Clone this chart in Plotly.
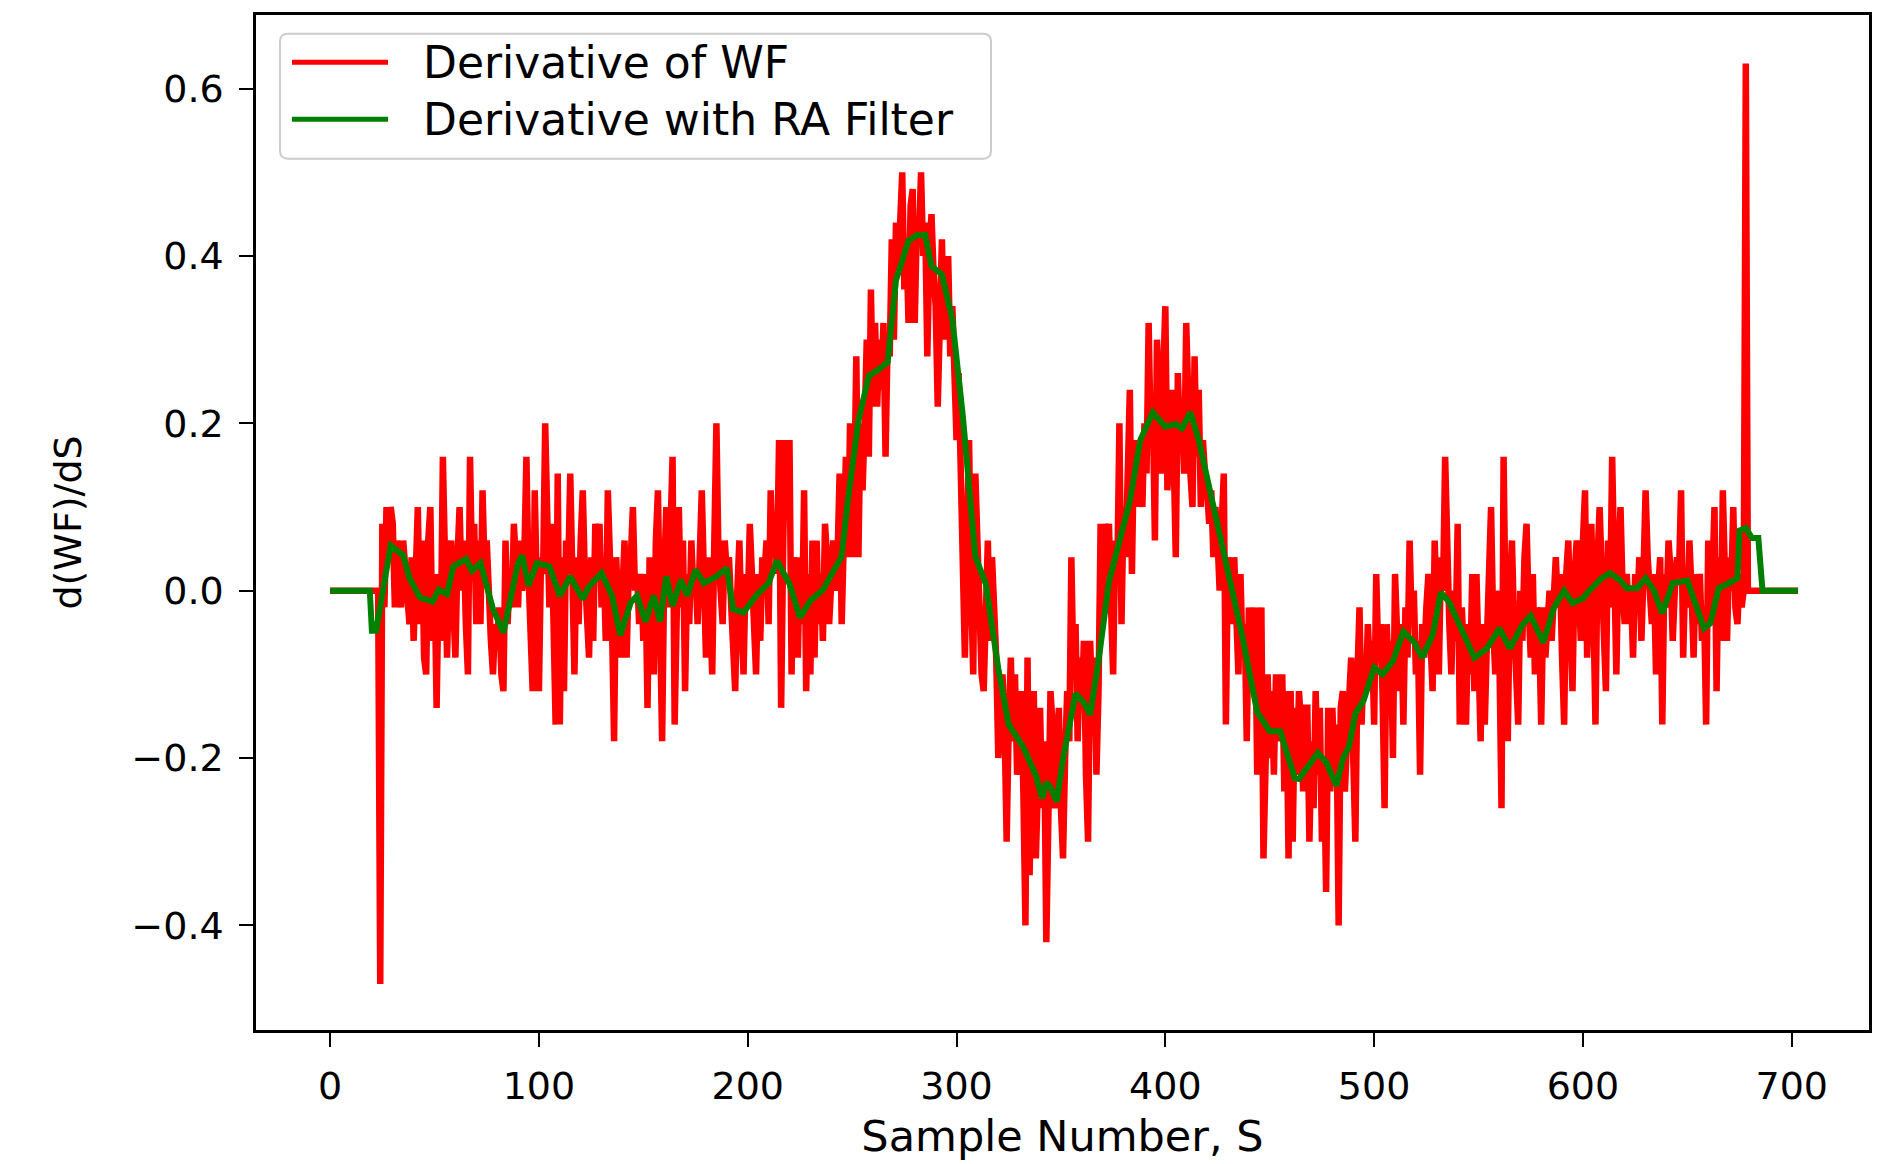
import plotly.graph_objects as go

# ---------------- data ----------------
# Derivative of WF: one value per sample, samples 0..703
deriv_wf = [
    0, 0, 0, 0, 0, 0, 0, 0, 0, 0,
    0, 0, 0, 0, 0, 0, 0, 0, 0, 0,
    0, 0, 0, 0, -0.47, 0.08, -0.02, 0.10, 0.04, 0.10,
    0.08, -0.02, 0.06, 0.00, -0.02, 0.06, 0.02, 0.00, -0.04, 0.04,
    -0.06, 0.02, 0.10, -0.04, 0.06, -0.08, -0.10, 0.06, 0.10, -0.06,
    0.02, -0.14, 0.02, -0.06, 0.16, 0.04, -0.08, 0.02, 0.06, -0.02,
    -0.08, 0.04, 0.10, 0.00, 0.06, -0.04, -0.10, 0.16, 0.02, 0.08,
    -0.04, 0.06, -0.04, 0.12, 0.02, 0.06, -0.02, -0.06, -0.10, -0.04,
    -0.06, -0.02, -0.10, -0.12, 0.06, -0.04, 0.02, -0.02, 0.08, 0.04,
    -0.02, 0.06, 0.00, 0.04, 0.16, 0.02, -0.06, -0.12, 0.12, -0.04,
    -0.12, 0.04, 0.02, 0.20, 0.06, -0.02, 0.08, -0.04, -0.16, 0.14,
    -0.16, 0.04, -0.12, 0.06, 0.02, 0.14, 0.00, -0.10, 0.04, -0.04,
    0.06, 0.12, 0.02, -0.02, -0.08, 0.04, -0.06, 0.08, 0.02, 0.08,
    -0.02, 0.04, -0.06, 0.12, 0.06, -0.04, -0.18, 0.04, -0.02, -0.08,
    0.00, 0.06, -0.08, 0.02, 0.04, 0.10, 0.00, 0.02, -0.04, 0.02,
    -0.06, 0.02, -0.14, 0.04, -0.02, -0.10, 0.06, 0.12, -0.04, -0.18,
    0.02, 0.10, -0.02, 0.06, 0.16, -0.16, 0.04, 0.10, -0.02, 0.06,
    -0.12, 0.02, -0.04, 0.06, 0.00, 0.02, -0.04, 0.06, 0.12, 0.02,
    -0.08, 0.04, -0.02, -0.10, 0.06, 0.20, 0.04, -0.02, -0.04, 0.06,
    0.02, 0.04, -0.02, -0.06, -0.12, 0.00, 0.06, -0.04, -0.10, 0.02,
    -0.02, 0.08, 0.00, -0.04, -0.10, 0.02, -0.06, 0.04, 0.02, 0.06,
    -0.04, 0.12, 0.04, 0.08, 0.02, 0.18, -0.14, 0.06, 0.18, 0.10,
    0.18, -0.10, 0.04, -0.02, -0.08, 0.04, -0.04, 0.12, -0.12, 0.02,
    -0.10, 0.06, -0.08, 0.06, -0.04, 0.02, -0.06, 0.08, 0.04, -0.04,
    0.02, 0.06, 0.00, 0.04, 0.14, -0.04, 0.06, 0.16, 0.04, 0.20,
    0.04, 0.12, 0.28, 0.04, 0.20, 0.12, 0.20, 0.30, 0.16, 0.36,
    0.22, 0.32, 0.22, 0.30, 0.24, 0.32, 0.16, 0.30, 0.28, 0.42,
    0.30, 0.44, 0.38, 0.46, 0.50, 0.36, 0.42, 0.32, 0.46, 0.48,
    0.32, 0.44, 0.42, 0.50, 0.40, 0.44, 0.28, 0.40, 0.45, 0.38,
    0.34, 0.22, 0.36, 0.42, 0.30, 0.38, 0.40, 0.28, 0.34, 0.26,
    0.18, 0.26, 0.12, 0.02, -0.08, 0.06, 0.18, 0.00, -0.10, 0.14,
    0.04, -0.06, -0.10, -0.12, 0.02, 0.06, -0.06, 0.04, -0.02, -0.08,
    -0.20, -0.12, -0.10, -0.16, -0.30, -0.16, -0.08, -0.18, -0.10, -0.22,
    -0.14, -0.12, -0.24, -0.40, -0.08, -0.34, -0.20, -0.12, -0.32, -0.22,
    -0.14, -0.26, -0.18, -0.42, -0.20, -0.12, -0.16, -0.26, -0.20, -0.14,
    -0.26, -0.32, -0.20, -0.12, -0.18, 0.04, -0.10, -0.04, -0.18, -0.08,
    -0.14, -0.06, -0.22, -0.30, -0.06, -0.14, -0.08, -0.22, -0.12, 0.08,
    -0.04, 0.08, 0.02, 0.08, -0.02, -0.10, 0.06, 0.02, 0.20, -0.04,
    0.10, 0.04, 0.14, 0.24, 0.02, 0.18, 0.10, 0.18, 0.14, 0.10,
    0.20, 0.14, 0.32, 0.18, 0.22, 0.06, 0.30, 0.20, 0.14, 0.26,
    0.34, 0.12, 0.20, 0.24, 0.16, 0.04, 0.26, 0.18, 0.22, 0.14,
    0.32, 0.20, 0.14, 0.10, 0.28, 0.16, 0.24, 0.10, 0.18, 0.14,
    0.12, 0.08, 0.12, 0.04, 0.10, 0.06, 0.00, 0.08, 0.14, -0.16,
    0.04, 0.00, -0.04, 0.04, -0.02, -0.10, 0.02, -0.08, -0.04, -0.18,
    -0.02, -0.12, -0.06, -0.02, -0.22, -0.10, -0.02, -0.32, -0.16, -0.10,
    -0.20, -0.12, -0.22, -0.10, -0.18, -0.14, -0.10, -0.24, -0.12, -0.32,
    -0.12, -0.30, -0.14, -0.22, -0.12, -0.16, -0.24, -0.14, -0.14, -0.30,
    -0.18, -0.26, -0.12, -0.22, -0.14, -0.30, -0.20, -0.36, -0.14, -0.24,
    -0.14, -0.22, -0.16, -0.40, -0.14, -0.12, -0.24, -0.18, -0.14, -0.08,
    -0.20, -0.30, -0.10, -0.02, -0.16, -0.08, -0.12, -0.04, -0.10, -0.06,
    -0.16, 0.02, -0.08, -0.04, -0.12, -0.26, -0.04, -0.10, -0.06, -0.20,
    0.02, -0.08, -0.12, -0.04, -0.16, -0.02, -0.08, 0.06, -0.04, 0.00,
    -0.10, -0.06, -0.22, -0.04, -0.08, -0.02, 0.02, -0.06, -0.12, 0.06,
    -0.04, -0.10, 0.04, 0.00, 0.16, 0.02, -0.04, -0.10, 0.00, -0.06,
    0.08, -0.16, -0.02, -0.08, -0.16, -0.04, -0.10, 0.02, -0.12, 0.02,
    -0.06, -0.18, -0.04, -0.16, -0.06, 0.02, 0.10, -0.04, -0.10, 0.00,
    -0.08, -0.26, 0.16, -0.04, -0.18, 0.00, 0.06, -0.04, -0.10, -0.16,
    0.00, -0.06, 0.04, 0.08, -0.02, -0.08, 0.02, -0.10, -0.02, -0.04,
    -0.16, -0.02, -0.08, -0.04, 0.00, -0.06, 0.02, 0.04, -0.02, 0.02,
    -0.08, -0.16, 0.02, 0.06, -0.04, -0.12, 0.02, 0.06, 0.00, -0.06,
    0.06, 0.12, -0.08, 0.04, 0.08, -0.02, -0.16, 0.04, 0.10, 0.02,
    -0.04, -0.12, 0.06, -0.02, 0.16, 0.02, -0.10, 0.04, 0.10, 0.00,
    -0.04, 0.02, -0.04, 0.00, -0.08, 0.02, -0.02, 0.04, -0.06, 0.02,
    0.12, 0.04, 0.00, -0.04, 0.02, -0.10, 0.00, 0.04, -0.16, 0.02,
    -0.02, 0.06, 0.02, -0.06, 0.00, 0.04, 0.02, 0.12, -0.08, 0.02,
    -0.02, 0.06, 0.00, -0.08, 0.02, -0.04, 0.02, -0.06, -0.02, -0.16,
    0.06, -0.04, 0.02, 0.10, -0.12, 0.04, -0.06, 0.12, 0.02, -0.06,
    0.04, 0.00, 0.10, -0.02, -0.04, 0.02, -0.02, 0.00, 0.63, 0.00,
    0, 0, 0, 0, 0, 0, 0, 0, 0, 0,
    0, 0, 0, 0, 0, 0, 0, 0, 0, 0,
    0, 0, 0, 0,
]
sample_wf = list(range(len(deriv_wf)))

# Derivative with RA filter: sample numbers and values
ra_samples = [
    0, 19, 20, 22, 29, 35, 38, 43, 49, 52, 56, 59, 65, 68, 72, 78, 83, 86, 90, 92,
    95, 99, 105, 110, 115, 121, 124, 130, 135, 139, 144, 147, 151, 155, 158, 161, 164, 168, 171, 175,
    179, 185, 190, 193, 198, 204, 210, 214, 220, 225, 230, 236, 242, 245, 248, 253, 258, 262, 267, 271,
    277, 281, 285, 288, 293, 298, 303, 309, 314, 320, 325, 332, 338, 341, 343, 345, 348, 351, 357, 361,
    364, 368, 373, 378, 383, 388, 394, 400, 405, 408, 412, 416, 421, 429, 437, 444, 450, 455, 458, 462,
    464, 469, 473, 477, 482, 485, 488, 491, 495, 500, 504, 509, 514, 519, 523, 528, 532, 536, 543, 548,
    554, 560, 565, 571, 575, 581, 586, 591, 595, 600, 603, 609, 613, 618, 621, 626, 630, 634, 638, 643,
    650, 653, 658, 661, 665, 670, 674, 675, 678, 681, 684, 686, 703,
]
ra_values = [
    0.0, 0.0, -0.048, -0.048, 0.054, 0.042, 0.015, -0.008, -0.013, 0.001, -0.004, 0.029, 0.038, 0.024, 0.033, -0.022, -0.050, -0.017, 0.033, 0.042,
    0.006, 0.033, 0.029, -0.006, 0.017, -0.010, 0.005, 0.021, -0.006, -0.053, -0.014, -0.006, -0.037, -0.006, -0.037, 0.017, -0.018, 0.013, -0.006, 0.025,
    0.009, 0.017, 0.027, -0.022, -0.026, -0.006, 0.009, 0.036, 0.008, -0.032, -0.012, 0.001, 0.028, 0.041, 0.109, 0.203, 0.257, 0.263, 0.273, 0.371,
    0.418, 0.425, 0.425, 0.388, 0.378, 0.324, 0.209, 0.041, 0.008, -0.093, -0.160, -0.187, -0.221, -0.248, -0.229, -0.235, -0.252, -0.201, -0.123, -0.134,
    -0.148, -0.084, 0.011, 0.056, 0.107, 0.180, 0.213, 0.196, 0.199, 0.194, 0.213, 0.180, 0.124, 0.040, -0.056, -0.145, -0.168, -0.168, -0.190, -0.224,
    -0.225, -0.209, -0.194, -0.205, -0.233, -0.201, -0.186, -0.147, -0.131, -0.092, -0.100, -0.084, -0.049, -0.061, -0.080, -0.053, -0.002, -0.014, -0.053, -0.080,
    -0.069, -0.045, -0.069, -0.041, -0.030, -0.062, -0.021, 0.000, -0.015, -0.009, 0.000, 0.015, 0.021, 0.012, 0.003, 0.003, 0.015, 0.000, -0.027, 0.009,
    0.012, -0.009, -0.045, -0.039, 0.003, 0.009, 0.015, 0.072, 0.075, 0.063, 0.063, 0.000, 0.000,
]

series_names = ["Derivative of WF", "Derivative with RA Filter"]
x_ticks = [0, 100, 200, 300, 400, 500, 600, 700]
y_ticks = [-0.4, -0.2, 0.0, 0.2, 0.4, 0.6]
x_title = "Sample Number, S"
y_title = "d(WF)/dS"

# ---------------- figure ----------------
FONT = "DejaVu Sans"
RED = "#ff0000"
GREEN = "#008000"

fig = go.Figure()
fig.add_trace(go.Scatter(x=sample_wf, y=deriv_wf, mode="lines", name=series_names[0],
                         line=dict(color=RED, width=6.5), showlegend=False))
fig.add_trace(go.Scatter(x=ra_samples, y=ra_values, mode="lines", name=series_names[1],
                         line=dict(color=GREEN, width=6), showlegend=False))

W, H = 1891, 1164
ML, MR, MT, MB = 256, 22, 12, 121
PW, PH = W - ML - MR, H - MT - MB


def px(xp):
    return (xp - ML) / PW


def py(yp):
    return 1 - (yp - MT) / PH


# legend drawn in the matplotlib style (long line samples, rounded frame)
bx0, bx1, by0, by1 = px(280), px(991), py(158), py(31)
rx, ry = 8 / PW, 8 / PH
box_path = (
    f"M{bx0+rx},{by0} L{bx1-rx},{by0} Q{bx1},{by0} {bx1},{by0+ry} "
    f"L{bx1},{by1-ry} Q{bx1},{by1} {bx1-rx},{by1} L{bx0+rx},{by1} "
    f"Q{bx0},{by1} {bx0},{by1-ry} L{bx0},{by0+ry} Q{bx0},{by0} {bx0+rx},{by0} Z"
)
shapes = [
    dict(type="path", xref="paper", yref="paper", path=box_path,
         line=dict(color="#cccccc", width=2), fillcolor="rgba(255,255,255,0.85)", layer="above"),
]
annotations = []
for i, (name, col) in enumerate(zip(series_names, [RED, GREEN])):
    yc = py(60 + i * 58)
    shapes.append(dict(type="line", xref="paper", yref="paper", x0=px(292), x1=px(388), y0=yc, y1=yc,
                       line=dict(color=col, width=5), layer="above"))
    annotations.append(dict(xref="paper", yref="paper", x=px(421), y=yc, xanchor="left", yanchor="middle",
                            text=name, showarrow=False, font=dict(family=FONT, size=44, color="black")))

axis_common = dict(
    showgrid=False, zeroline=False, showline=True, linecolor="black", linewidth=2.5, mirror=True,
    ticks="outside", ticklen=14, tickwidth=2, tickcolor="black",
    tickfont=dict(family=FONT, size=38, color="black"),
)

fig.update_layout(
    width=W, height=H,
    margin=dict(l=ML, r=MR, t=MT, b=MB, pad=0),
    paper_bgcolor="white", plot_bgcolor="white",
    xaxis=dict(range=[-35.5, 737], tickmode="array", tickvals=x_ticks,
               ticktext=[str(v) for v in x_ticks], ticklabelstandoff=7,
               title=dict(text=x_title, font=dict(family=FONT, size=43, color="black"), standoff=14),
               **axis_common),
    yaxis=dict(range=[-0.525, 0.688], tickmode="array", tickvals=y_ticks, tickformat=".1f",
               ticklabelstandoff=8,
               title=dict(text=y_title, font=dict(family=FONT, size=38, color="black"), standoff=39),
               **axis_common),
    shapes=shapes,
    annotations=annotations,
    showlegend=False,
)

fig.write_html("out.html")
